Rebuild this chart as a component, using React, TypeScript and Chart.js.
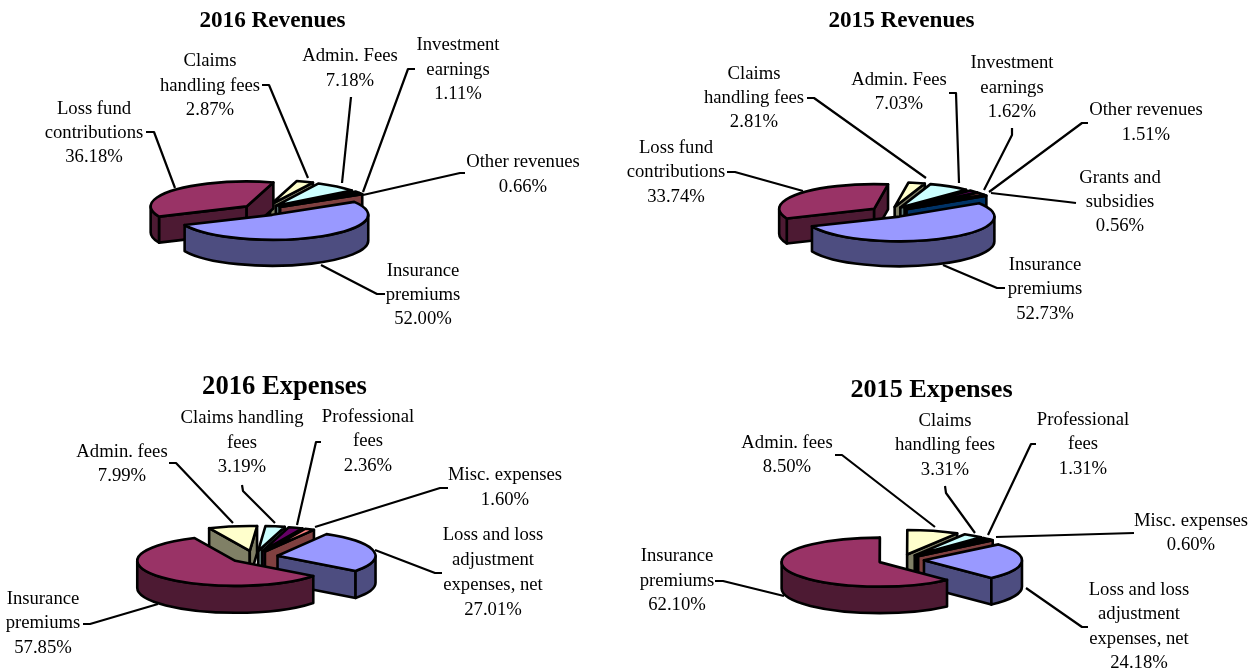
import React, { useEffect, useRef } from "react";
import { Chart, registerables } from "chart.js";

Chart.register(...registerables);

const FONT = "'Liberation Serif', 'Times New Roman', serif";

// ---- data ----
const rev2016Labels = ["Insurance premiums", "Loss fund contributions", "Claims handling fees", "Admin. Fees", "Investment earnings", "Other revenues"];
const rev2016Values = [52.0, 36.18, 2.87, 7.18, 1.11, 0.66];
const rev2015Labels = ["Insurance premiums", "Loss fund contributions", "Claims handling fees", "Admin. Fees", "Investment earnings", "Other revenues", "Grants and subsidies"];
const rev2015Values = [52.73, 33.74, 2.81, 7.03, 1.62, 1.51, 0.56];
const exp2016Labels = ["Loss and loss adjustment expenses, net", "Insurance premiums", "Admin. fees", "Claims handling fees", "Professional fees", "Misc. expenses"];
const exp2016Values = [27.01, 57.85, 7.99, 3.19, 2.36, 1.6];
const exp2015Labels = ["Loss and loss adjustment expenses, net", "Insurance premiums", "Admin. fees", "Claims handling fees", "Professional fees", "Misc. expenses"];
const exp2015Values = [24.18, 62.1, 8.5, 3.31, 1.31, 0.6];

// ---- colours ----
const topColors = ["#9999FF", "#993366", "#FFFFCC", "#CCFFFF", "#660066", "#FF8080", "#0066CC"];
const wallColors = ["#4D4D80", "#4D1A33", "#808066", "#668080", "#330033", "#804040", "#003366"];

// ---- layout (page pixels): how each category label is broken and placed ----
type Note = { lines: string[]; cx: number; ys: number[]; leader: number[][] };

const rev2016Notes: Note[] = [
  { lines: ["Insurance", "premiums"], cx: 423, ys: [271, 295, 319], leader: [[385, 294], [377, 294], [321, 265]] },
  { lines: ["Loss fund", "contributions"], cx: 94, ys: [109, 133, 157], leader: [[146, 132], [154, 132], [175, 188]] },
  { lines: ["Claims", "handling fees"], cx: 210, ys: [61, 86, 110], leader: [[262, 85], [269, 85], [308, 178]] },
  { lines: ["Admin. Fees"], cx: 350, ys: [56, 81], leader: [[351, 97], [342, 183]] },
  { lines: ["Investment", "earnings"], cx: 458, ys: [45, 70, 94], leader: [[415, 69], [408, 69], [363, 192]] },
  { lines: ["Other revenues"], cx: 523, ys: [162, 187], leader: [[465, 173], [460, 173], [363, 195]] },
];
const rev2015Notes: Note[] = [
  { lines: ["Insurance", "premiums"], cx: 1045, ys: [265, 289, 314], leader: [[1005, 288], [997, 288], [943, 265]] },
  { lines: ["Loss fund", "contributions"], cx: 676, ys: [148, 172, 197], leader: [[727, 172], [735, 172], [803, 191]] },
  { lines: ["Claims", "handling fees"], cx: 754, ys: [74, 98, 122], leader: [[807, 98], [814, 98], [926, 178]] },
  { lines: ["Admin. Fees"], cx: 899, ys: [80, 104], leader: [[949, 93], [956, 93], [959, 183]] },
  { lines: ["Investment", "earnings"], cx: 1012, ys: [63, 88, 112], leader: [[1012, 128], [1012, 135], [984, 190]] },
  { lines: ["Other revenues"], cx: 1146, ys: [110, 135], leader: [[1088, 123], [1082, 123], [989, 192]] },
  { lines: ["Grants and", "subsidies"], cx: 1120, ys: [178, 202, 226], leader: [[1076, 203], [1068, 202], [991, 193]] },
];
const exp2016Notes: Note[] = [
  { lines: ["Loss and loss", "adjustment", "expenses, net"], cx: 493, ys: [535, 560, 585, 610], leader: [[442, 573], [435, 573], [375, 550]] },
  { lines: ["Insurance", "premiums"], cx: 43, ys: [599, 623, 648], leader: [[83, 624], [90, 624], [158, 604]] },
  { lines: ["Admin. fees"], cx: 122, ys: [452, 476], leader: [[169, 463], [176, 463], [233, 523]] },
  { lines: ["Claims handling", "fees"], cx: 242, ys: [418, 443, 467], leader: [[242, 485], [243, 491], [275, 523]] },
  { lines: ["Professional", "fees"], cx: 368, ys: [417, 441, 466], leader: [[321, 442], [316, 442], [297, 525]] },
  { lines: ["Misc. expenses"], cx: 505, ys: [475, 500], leader: [[448, 488], [440, 488], [315, 527]] },
];
const exp2015Notes: Note[] = [
  { lines: ["Loss and loss", "adjustment", "expenses, net"], cx: 1139, ys: [590, 614, 639, 663], leader: [[1088, 627], [1082, 627], [1026, 588]] },
  { lines: ["Insurance", "premiums"], cx: 677, ys: [556, 581, 605], leader: [[715, 581], [723, 581], [784, 596]] },
  { lines: ["Admin. fees"], cx: 787, ys: [443, 467], leader: [[835, 455], [842, 455], [935, 527]] },
  { lines: ["Claims", "handling fees"], cx: 945, ys: [421, 445, 470], leader: [[945, 486], [946, 493], [975, 533]] },
  { lines: ["Professional", "fees"], cx: 1083, ys: [420, 444, 469], leader: [[1036, 444], [1031, 444], [988, 535]] },
  { lines: ["Misc. expenses"], cx: 1191, ys: [521, 545], leader: [[1134, 533], [996, 537]] },
];

type Panel = {
  title: string;
  labels: string[];
  values: number[];
  notes: Note[];
  rect: { left: number; top: number; width: number; height: number };
  titleSize: number;
  titleTop: number;
  rotation: number;
  radius: number;
  explode: number;
  center: { x: number; y: number };
  tilt: number;
  depth: number;
};

const panels: Panel[] = [
  { title: "2016 Revenues", labels: rev2016Labels, values: rev2016Values, notes: rev2016Notes, rect: { left: -100, top: 0, width: 745, height: 335 }, titleSize: 23.2, titleTop: 7.5, rotation: 58.7, radius: 96, explode: 21, center: { x: 262.5, y: 210 }, tilt: 0.26, depth: 26 },
  { title: "2015 Revenues", labels: rev2015Labels, values: rev2015Values, notes: rev2015Notes, rect: { left: 572, top: 0, width: 659, height: 335 }, titleSize: 23.2, titleTop: 7.5, rotation: 57.1, radius: 95, explode: 20, center: { x: 890, y: 212 }, tilt: 0.26, depth: 25 },
  { title: "2016 Expenses", labels: exp2016Labels, values: exp2016Values, notes: exp2016Notes, rect: { left: -100, top: 335, width: 769, height: 336 }, titleSize: 26.6, titleTop: 36.5, rotation: 30, radius: 98, explode: 24, center: { x: 254, y: 557 }, tilt: 0.255, depth: 27 },
  { title: "2015 Expenses", labels: exp2015Labels, values: exp2015Values, notes: exp2015Notes, rect: { left: 600, top: 335, width: 663, height: 336 }, titleSize: 26.2, titleTop: 39.5, rotation: 49.5, radius: 98, explode: 23, center: { x: 901, y: 560 }, tilt: 0.25, depth: 26.5 },
];

function pie3dPlugin(p: Panel) {
  return {
    id: "pie3d",
    beforeDatasetsDraw(chart: any) {
      const ctx: CanvasRenderingContext2D = chart.ctx;
      const arcs: any[] = chart.getDatasetMeta(0).data;
      ctx.save();
      ctx.translate(-p.rect.left, -p.rect.top);
      ctx.strokeStyle = "#000";
      ctx.fillStyle = "#000";

      // category labels and leader lines
      ctx.font = `18.7px ${FONT}`;
      ctx.textAlign = "center";
      ctx.textBaseline = "middle";
      p.notes.forEach((n, i) => {
        const text = [...n.lines, p.values[i].toFixed(2) + "%"];
        text.forEach((t, j) => ctx.fillText(t, n.cx, n.ys[j] + 0.5));
        ctx.beginPath();
        n.leader.forEach(([x, y], j) => (j ? ctx.lineTo(x, y) : ctx.moveTo(x, y)));
        ctx.lineWidth = 2.2;
        ctx.lineJoin = "round";
        ctx.stroke();
      });

      // slices, furthest first
      const a = arcs[0].outerRadius;
      const b = a * p.tilt;
      const slices = arcs.map((arc, i) => {
        const s = arc.startAngle;
        const e = arc.endAngle;
        const m = (s + e) / 2;
        const off = arc.options.offset;
        return { i, s, e, x: p.center.x + Math.cos(m) * off, y: p.center.y + Math.sin(m) * off * p.tilt };
      });
      slices.sort((u, v) => u.y - v.y);
      ctx.lineWidth = 2.6;
      ctx.lineJoin = "round";
      for (const sl of slices) {
        const { s, e, x, y, i } = sl;
        const d = p.depth;
        ctx.fillStyle = wallColors[i];
        const quad = (t: number) => {
          const qx = x + a * Math.cos(t);
          const qy = y + b * Math.sin(t);
          ctx.beginPath();
          ctx.moveTo(x, y);
          ctx.lineTo(qx, qy);
          ctx.lineTo(qx, qy + d);
          ctx.lineTo(x, y + d);
          ctx.closePath();
          ctx.fill();
          ctx.stroke();
        };
        if (Math.cos(s) < 0) quad(s);
        if (Math.cos(e) > 0) quad(e);
        for (let k = -1; k < 3; k++) {
          const lo = Math.max(s, 2 * Math.PI * k);
          const hi = Math.min(e, 2 * Math.PI * k + Math.PI);
          if (lo < hi) {
            ctx.beginPath();
            ctx.ellipse(x, y, a, b, 0, lo, hi);
            ctx.ellipse(x, y + d, a, b, 0, hi, lo, true);
            ctx.closePath();
            ctx.fill();
            ctx.stroke();
          }
        }
        ctx.fillStyle = topColors[i];
        ctx.beginPath();
        ctx.moveTo(x, y);
        ctx.ellipse(x, y, a, b, 0, s, e);
        ctx.closePath();
        ctx.fill();
        ctx.stroke();
      }
      ctx.restore();
      return false;
    },
  };
}

function PiePanel({ panel }: { panel: Panel }) {
  const ref = useRef<HTMLCanvasElement>(null);
  useEffect(() => {
    const chart = new Chart(ref.current as HTMLCanvasElement, {
      type: "pie",
      data: {
        labels: panel.labels,
        datasets: [{ data: panel.values, backgroundColor: topColors, offset: panel.explode, borderColor: "#000", borderWidth: 2 }],
      },
      options: {
        responsive: false,
        animation: false,
        events: [],
        rotation: panel.rotation,
        radius: panel.radius,
        plugins: {
          legend: { display: false },
          tooltip: { enabled: false },
          title: {
            display: true,
            text: panel.title,
            color: "#000",
            font: { family: FONT, size: panel.titleSize, weight: "bold", lineHeight: 1.2 },
            padding: { top: panel.titleTop, bottom: 0 },
          },
        },
      },
      plugins: [pie3dPlugin(panel)],
    } as any);
    return () => chart.destroy();
  }, [panel]);
  const r = panel.rect;
  return (
    <canvas
      ref={ref}
      width={r.width}
      height={r.height}
      style={{ position: "absolute", left: r.left, top: r.top, width: r.width, height: r.height }}
    />
  );
}

export default function App() {
  return (
    <div style={{ position: "absolute", left: 0, top: 0, width: 1259, height: 671, overflow: "hidden", background: "#fff" }}>
      {panels.map((p) => (
        <PiePanel key={p.title} panel={p} />
      ))}
    </div>
  );
}
